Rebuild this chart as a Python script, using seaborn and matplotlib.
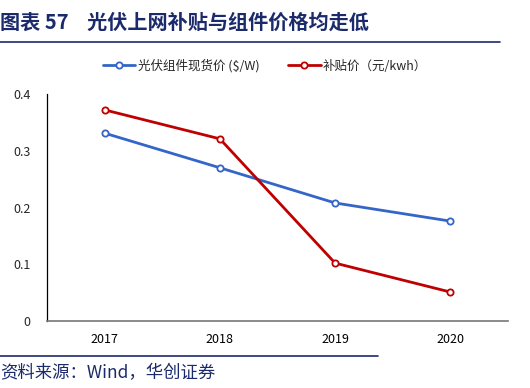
import matplotlib
matplotlib.use('Agg')
import matplotlib.pyplot as plt
import seaborn as sns
import pandas as pd
from matplotlib.lines import Line2D

sns.set_style('white')
plt.rcParams['font.family'] = ['Noto Sans CJK SC', 'DejaVu Sans']

# Dados
anos = ['2017', '2018', '2019', '2020']
preco_modulo = [0.331, 0.270, 0.208, 0.176]
subsidio = [0.372, 0.321, 0.102, 0.051]
nome_modulo = '光伏组件现货价 ($/W)'
nome_subsidio = '补贴价（元/kwh）'

df = pd.DataFrame({
    'Ano': anos * 2,
    'Valor': preco_modulo + subsidio,
    'Serie': [nome_modulo] * 4 + [nome_subsidio] * 4,
})

azul = '#3465C8'
vermelho = '#C00000'
navy = '#1B2A6B'

fig = plt.figure(figsize=(5.3, 3.88), dpi=100)
ax = fig.add_axes([0.0887, 0.1727, 0.8698, 0.585])

sns.lineplot(data=df, x='Ano', y='Valor', hue='Serie',
             palette={nome_modulo: azul, nome_subsidio: vermelho},
             marker='o', markersize=4.5, markerfacecolor='white',
             markeredgewidth=1.3, linewidth=2, ax=ax, legend=False)
for ln, cor in zip(ax.lines, [azul, vermelho]):
    ln.set_markeredgecolor(cor)

ax.set_xlim(-0.5, 3.5)
ax.set_ylim(0, 0.4)
ax.set_yticks([0, 0.1, 0.2, 0.3, 0.4])
ax.set_yticklabels(['0', '0.1', '0.2', '0.3', '0.4'])
ax.set_xlabel('')
ax.set_ylabel('')
ax.grid(False)

ax.set_xticks([0, 1, 2, 3])
ax.set_xticks([0.5, 1.5, 2.5], minor=True)
ax.tick_params(axis='x', which='major', length=0, pad=9, labelsize=9, colors='black')
ax.tick_params(axis='x', which='minor', direction='in', length=4, width=0.8, color='#333333')
ax.tick_params(axis='y', direction='in', length=3, width=0.8, pad=12, labelsize=9)

for s in ['top', 'right']:
    ax.spines[s].set_visible(False)
ax.spines['left'].set_color('black')
ax.spines['left'].set_linewidth(0.9)
ax.spines['bottom'].set_color('#777777')
ax.spines['bottom'].set_linewidth(1.2)

# Legenda
handles = [
    Line2D([], [], color=azul, lw=2, marker='o', markersize=4.5,
           markerfacecolor='white', markeredgecolor=azul, markeredgewidth=1.3),
    Line2D([], [], color=vermelho, lw=2, marker='o', markersize=4.5,
           markerfacecolor='white', markeredgecolor=vermelho, markeredgewidth=1.3),
]
fig.legend(handles, [nome_modulo, nome_subsidio], loc='center',
           bbox_to_anchor=(0.5, 1 - 66 / 388), ncol=2, frameon=False,
           fontsize=9, handlelength=2.6, columnspacing=2.3, handletextpad=0.2)

# Título e fonte
fig.text(0.0, 1 - 22 / 388, '图表 57    光伏上网补贴与组件价格均走低',
         fontsize=14.5, fontweight='bold', color=navy, va='center', ha='left')
fig.add_artist(Line2D([0, 500 / 530], [1 - 42 / 388] * 2, color=navy, lw=1.2))
fig.add_artist(Line2D([0, 378 / 530], [1 - 356 / 388] * 2, color=navy, lw=1.2))
fig.text(0.0, 1 - 373 / 388, '资料来源：Wind，华创证券',
         fontsize=12.5, style='italic', color=navy, va='center', ha='left')

fig.savefig('out.png', dpi=100)
